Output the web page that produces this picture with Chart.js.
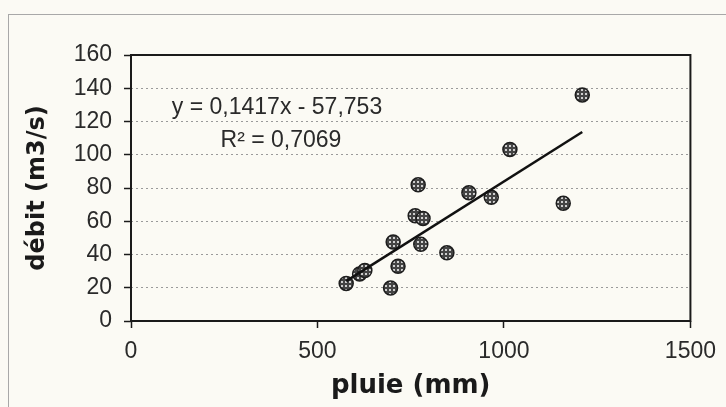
<!DOCTYPE html>
<html>
<head>
<meta charset="utf-8">
<script src="https://cdn.jsdelivr.net/npm/chart.js@4"></script>
<style>
  body { margin: 0; background: #fbfaf4; }
  #wrap { position: relative; width: 726px; height: 407px; }
  #frame { position: absolute; left: 8px; top: 14px; right: 0; bottom: 0;
           border-left: 1px solid #a8a8a8; border-top: 1px solid #a8a8a8; }
  canvas { position: absolute; left: 0; top: 0; }
</style>
</head>
<body>
<div id="wrap">
  <div id="frame"></div>
  <canvas id="chart" width="726" height="407"></canvas>
</div>
<script>
// pluie annuelle (mm) et débit moyen (m3/s)
const pluie = [577, 613, 627, 696, 703, 716, 762, 770, 777, 783, 847, 906, 966, 1016, 1159, 1210];
const debit = [22.6, 28.3, 30.4, 19.8, 47.5, 32.9, 63.3, 81.9, 46.1, 61.7, 41.0, 77.2, 74.4, 103.2, 70.8, 136.0];

// droite de tendance
const pente = 0.1417;
const ordonnee = -57.753;
const r2 = "0,7069";

const xMax = 1500, xStep = 500;
const yMax = 160, yStep = 20;

const points = pluie.map((x, i) => ({ x, y: debit[i] }));
const xmin = Math.min(...pluie), xmax = Math.max(...pluie);
const tendance = [
  { x: xmin, y: pente * xmin + ordonnee },
  { x: xmax, y: pente * xmax + ordonnee }
];

// motif grisé des points
function hachure() {
  const c = document.createElement("canvas");
  c.width = 4; c.height = 4;
  const g = c.getContext("2d");
  g.fillStyle = "#444";
  g.fillRect(0, 0, 4, 4);
  g.fillStyle = "#cfcfcf";
  g.fillRect(1, 1, 2, 2);
  return g.createPattern(c, "repeat");
}

const cadre = {
  id: "cadre",
  afterDatasetsDraw(chart) {
    const { ctx, chartArea: a } = chart;
    ctx.save();
    ctx.strokeStyle = "#1a1a1a";
    ctx.lineWidth = 2;
    ctx.strokeRect(a.left, a.top, a.right - a.left, a.bottom - a.top);

    ctx.fillStyle = "#2a2a2a";
    ctx.font = "23px 'Liberation Sans', Arial";
    ctx.textAlign = "center";
    ctx.textBaseline = "middle";
    const s = ordonnee < 0 ? " - " : " + ";
    ctx.fillText("y = " + String(pente).replace(".", ",") + "x" + s +
      String(Math.abs(ordonnee)).replace(".", ","), 277, 108);
    ctx.fillText("R\u00b2 = " + r2, 281, 141);
    ctx.restore();
  }
};

const nombre = v => String(v);

new Chart(document.getElementById("chart"), {
  type: "scatter",
  data: {
    datasets: [
      {
        label: "tendance",
        type: "line",
        data: tendance,
        borderColor: "#111",
        borderWidth: 2.5,
        pointRadius: 0,
        fill: false
      },
      {
        label: "débit",
        data: points,
        backgroundColor: hachure(),
        borderColor: "#1e1e1e",
        borderWidth: 1.5,
        pointRadius: 7,
        pointHoverRadius: 7
      }
    ]
  },
  options: {
    responsive: false,
    animation: false,
    events: [],
    layout: { padding: { left: 0, right: 31, top: 55, bottom: 0 } },
    plugins: { legend: { display: false }, tooltip: { enabled: false } },
    scales: {
      x: {
        type: "linear",
        min: 0, max: xMax,
        afterFit: s => { s.height = 86; },
        ticks: {
          stepSize: xStep,
          padding: 10,
          callback: nombre,
          color: "#2a2a2a",
          font: { family: "'Liberation Sans', Arial", size: 23 }
        },
        grid: {
          drawOnChartArea: false,
          tickLength: 7,
          tickColor: "#1a1a1a",
          tickWidth: 1.5
        },
        border: { display: false },
        title: {
          display: true,
          text: "pluie (mm)",
          color: "#1a1a1a",
          padding: { top: 0, bottom: 5 },
          font: { family: "'DejaVu Sans'", size: 26, weight: "bold" }
        }
      },
      y: {
        min: 0, max: yMax,
        afterFit: s => { s.width = 131; },
        ticks: {
          stepSize: yStep,
          padding: 12,
          callback: nombre,
          color: "#2a2a2a",
          font: { family: "'Liberation Sans', Arial", size: 23 }
        },
        grid: {
          color: "#9a9a9a",
          lineWidth: 1,
          tickLength: 7,
          tickColor: "#1a1a1a",
          tickWidth: 1.5
        },
        border: { display: false, dash: [2, 3] },
        title: {
          display: true,
          text: "débit (m3/s)",
          color: "#1a1a1a",
          padding: { top: 23, bottom: 0 },
          font: { family: "'DejaVu Sans'", size: 24, weight: "bold" }
        }
      }
    }
  },
  plugins: [cadre]
});
</script>
</body>
</html>
